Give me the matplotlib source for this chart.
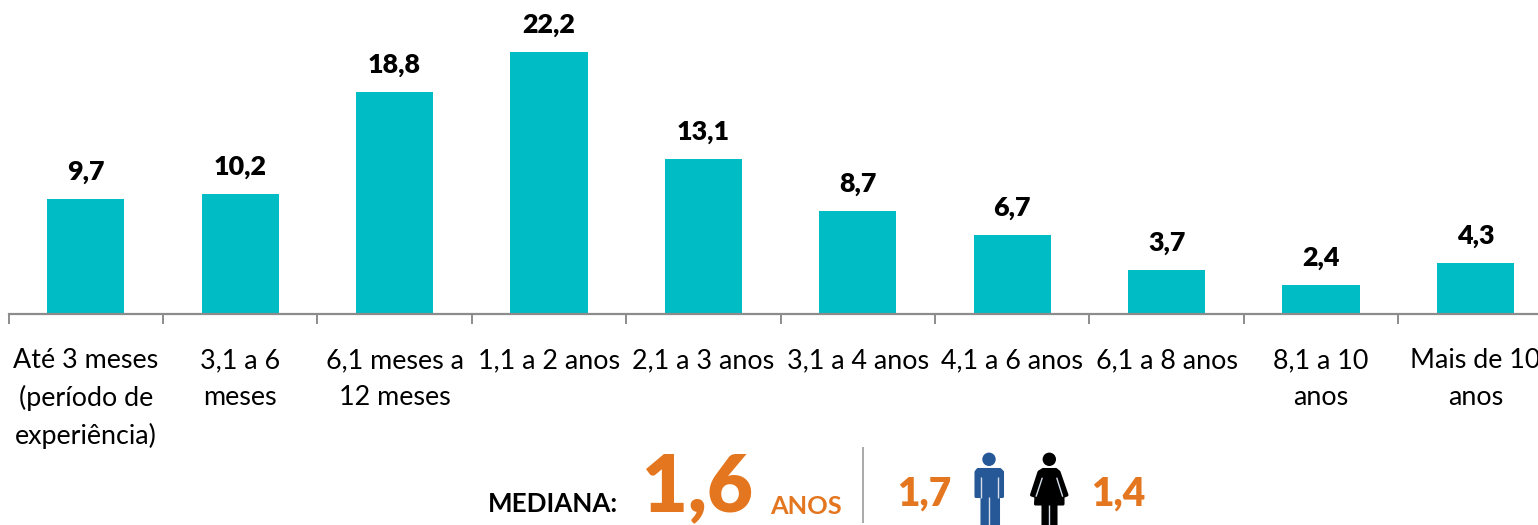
import matplotlib
matplotlib.use("Agg")
import matplotlib.pyplot as plt
from matplotlib.patches import Ellipse, Polygon, Rectangle
from matplotlib.transforms import Affine2D

categories = ["Até 3 meses\n(período de\nexperiência)", "3,1 a 6\nmeses", "6,1 meses a\n12 meses",
              "1,1 a 2 anos", "2,1 a 3 anos", "3,1 a 4 anos", "4,1 a 6 anos", "6,1 a 8 anos",
              "8,1 a 10\nanos", "Mais de 10\nanos"]
values = [9.7, 10.2, 18.8, 22.2, 13.1, 8.7, 6.7, 3.7, 2.4, 4.3]
value_labels = ["9,7", "10,2", "18,8", "22,2", "13,1", "8,7", "6,7", "3,7", "2,4", "4,3"]
median_total = "1,6"
median_men = "1,7"
median_women = "1,4"

W, H = 1538, 525
TEAL = "#00BCC4"
GRAY = "#8C8C8C"
ORANGE = "#E4761F"
BLUE = "#265796"
plt.rcParams["font.family"] = ["Lato", "DejaVu Sans"]

fig = plt.figure(figsize=(W / 100, H / 100), dpi=100)
px_left, px_width, px_base = 8.6, 1544.0, 313.5
px_per_unit = 11.76
ax = fig.add_axes([px_left / W, (H - px_base) / H, px_width / W, px_base / H])
ax.set_xlim(-0.5, len(values) - 0.5)
ax.set_ylim(0, px_base / px_per_unit)
ax.patch.set_alpha(0)
for s in ["top", "left", "right"]:
    ax.spines[s].set_visible(False)
ax.spines["bottom"].set_color(GRAY)
ax.spines["bottom"].set_linewidth(1.6)
ax.set_yticks([])

x = list(range(len(values)))
ax.bar(x, values, width=0.5, color=TEAL, linewidth=0)
for xi, v, lab in zip(x, values, value_labels):
    ax.annotate(lab, (xi, v), xytext=(0, 15), textcoords="offset pixels", ha="center", va="bottom",
                fontsize=19.4, fontweight="heavy", color="black")

ax.set_xticks([i - 0.5 for i in range(len(values) + 1)])
ax.set_xticklabels([])
ax.tick_params(axis="x", length=7.5, width=1.4, color=GRAY, direction="out")
for xi, lab in zip(x, categories):
    ax.annotate(lab, (xi, 0), xytext=(0, -35), textcoords="offset pixels", ha="center", va="top",
                fontsize=19.4, color="black", linespacing=1.56, annotation_clip=False, clip_on=False)

def T(px, py, s, **kw):
    fig.text(px / W, 1 - py / H, s, **kw)

T(553, 504, "MEDIANA:", ha="center", va="center", fontsize=18.7, fontweight="bold", color="black")
T(698, 488, median_total, ha="center", va="center", fontsize=57, fontweight="heavy", color=ORANGE)
T(806, 506, "ANOS", ha="center", va="center", fontsize=18.3, fontweight="bold", color=ORANGE)
T(924, 494, median_men, ha="center", va="center", fontsize=28, fontweight="heavy", color=ORANGE)
T(1118, 494, median_women, ha="center", va="center", fontsize=28, fontweight="heavy", color=ORANGE)

# pixel space, y down
px = Affine2D().scale(1, -1).translate(0, H)
def add(p):
    p.set_transform(px)
    p.set_clip_on(True)
    fig.add_artist(p)

def body(points, color):
    add(Polygon(points, closed=True, facecolor=color, edgecolor=color, linewidth=2.2, joinstyle="round"))

def slit(p0, p1):
    add(Polygon([p0, p1], closed=False, fill=False, edgecolor="#D5DEE8", linewidth=1.0))

add(Rectangle((862, 447), 2.2, 76, facecolor="#ABABAB", edgecolor="none"))

# man icon
add(Ellipse((989, 459.3), 13.4, 13.4, facecolor=BLUE, edgecolor="none"))
body([(978, 469.5), (1000, 469.5), (1002.5, 472), (1002.5, 496.5), (998.5, 496.5), (998.5, 530),
      (982, 530), (982, 496.5), (976, 496.5), (976, 472)], BLUE)
slit((980.5, 477), (980.5, 498))
slit((998, 477), (998, 498))
slit((989, 497), (989, 530))

# woman icon
add(Ellipse((1049.3, 459.3), 13.4, 13.4, facecolor="black", edgecolor="none"))
body([(1043, 469.5), (1056, 469.5), (1059, 472), (1067, 495), (1063, 496.5), (1063, 504),
      (1056, 504), (1056, 530), (1043, 530), (1043, 504), (1035.5, 504), (1036, 496.5),
      (1031.5, 495), (1039, 472)], "black")
slit((1042.3, 477.7), (1036, 496.7))
slit((1056.7, 477.7), (1062.7, 496.7))
slit((1049.3, 505), (1049.3, 530))

fig.savefig("out.png", dpi=100)
